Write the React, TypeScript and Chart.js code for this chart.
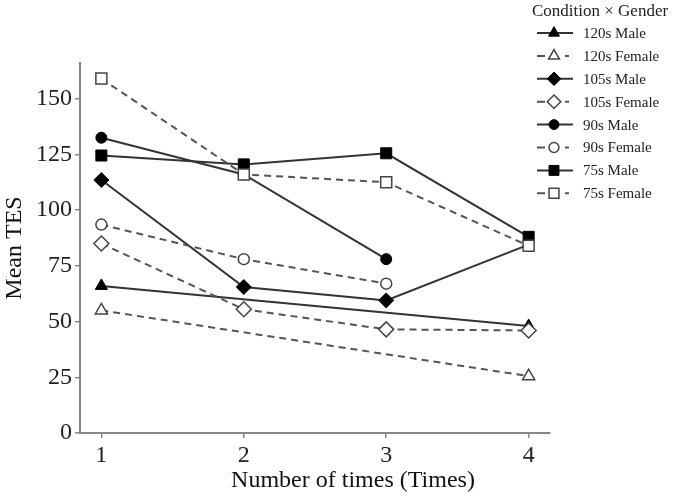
import React, { useEffect, useRef } from 'react';
import { Chart, registerables } from 'chart.js';

Chart.register(...registerables);

// ---- data ----
const timePoints = [1, 2, 3, 4];
const yTickValues = [0, 25, 50, 75, 100, 125, 150];
const legendTitle = 'Condition × Gender';
const xTitle = 'Number of times (Times)';
const yTitle = 'Mean TES';
const seriesNames = [
  '120s Male', '120s Female', '105s Male', '105s Female',
  '90s Male', '90s Female', '75s Male', '75s Female',
];
const male120 = [66, null, null, 48];
const female120 = [55, null, null, 25.5];
const male105 = [113.5, 65.5, 59.5, 84.5];
const female105 = [85, 55.5, 46.5, 46];
const male90 = [132.5, 116, 78, null];
const female90 = [93.5, 78, 67, null];
const male75 = [124.5, 120.5, 125.5, 88];
const female75 = [159, 116, 112.5, 84];

const seriesValues = [male120, female120, male105, female105, male90, female90, male75, female75];
const markerStyles = ['triangle', 'triangle', 'rectRot', 'rectRot', 'circle', 'circle', 'rect', 'rect'];
const markerRadius: Record<string, number> = { triangle: 7, rectRot: 7.5, circle: 5.5, rect: 7.8 };

const FONT = '"Liberation Serif", "DejaVu Serif", serif';

function drawMarker(ctx: CanvasRenderingContext2D, style: string, x: number, y: number, r: number) {
  ctx.beginPath();
  if (style === 'circle') {
    ctx.arc(x, y, r, 0, Math.PI * 2);
  } else if (style === 'rect') {
    const s = r / Math.SQRT2;
    ctx.rect(x - s, y - s, 2 * s, 2 * s);
  } else if (style === 'rectRot') {
    ctx.moveTo(x, y - r);
    ctx.lineTo(x + r, y);
    ctx.lineTo(x, y + r);
    ctx.lineTo(x - r, y);
    ctx.closePath();
  } else {
    const h = r * 1.5;
    const w = r * Math.sqrt(3) / 2;
    ctx.moveTo(x, y - r);
    ctx.lineTo(x + w, y - r + h);
    ctx.lineTo(x - w, y - r + h);
    ctx.closePath();
  }
  ctx.fill();
  ctx.stroke();
}

const legendPlugin = {
  id: 'customLegend',
  afterDraw(chart: any) {
    const ctx: CanvasRenderingContext2D = chart.ctx;
    ctx.save();
    ctx.fillStyle = '#111';
    ctx.textAlign = 'center';
    ctx.textBaseline = 'middle';
    ctx.font = `24px ${FONT}`;
    ctx.fillText(xTitle, 353, 481);

    ctx.fillStyle = '#222';
    ctx.textAlign = 'left';
    ctx.font = `17px ${FONT}`;
    ctx.fillText(legendTitle, 532, 12);
    chart.data.datasets.forEach((ds: any, i: number) => {
      const y = 33 + i * 22.9;
      const dashed = i % 2 === 1;
      ctx.setLineDash([]);
      ctx.strokeStyle = ds.borderColor;
      ctx.lineWidth = 2;
      ctx.beginPath();
      if (dashed) {
        ctx.moveTo(537, y); ctx.lineTo(545, y);
        ctx.moveTo(565, y); ctx.lineTo(569, y);
      } else {
        ctx.moveTo(537, y); ctx.lineTo(573, y);
      }
      ctx.stroke();
      ctx.fillStyle = ds.pointBackgroundColor;
      ctx.strokeStyle = ds.pointBorderColor;
      ctx.lineWidth = ds.pointBorderWidth;
      const st = markerStyles[i];
      drawMarker(ctx, st, 554, y, markerRadius[st] * 0.9);
      ctx.fillStyle = '#222';
      ctx.font = `15px ${FONT}`;
      ctx.fillText(ds.label, 583, y + 1);
    });
    ctx.restore();
  },
};

export default function App() {
  const ref = useRef<HTMLCanvasElement | null>(null);

  useEffect(() => {
    if (!ref.current) return;
    const datasets = seriesNames.map((name, i) => {
      const female = i % 2 === 1;
      const st = markerStyles[i];
      const vals = seriesValues[i];
      const radius = vals.map((v, k) => (name === '105s Male' && k === 3 ? 0 : markerRadius[st]));
      return {
        label: name,
        data: vals.map((v, k) => ({ x: timePoints[k], y: v })),
        spanGaps: true,
        borderColor: female ? '#555' : '#333',
        borderWidth: 2,
        borderDash: female ? [7, 5] : [],
        pointStyle: st,
        pointRadius: radius,
        pointHoverRadius: radius,
        pointBackgroundColor: female ? '#fff' : '#000',
        pointBorderColor: female ? '#444' : '#000',
        pointBorderWidth: female ? 1.5 : 1,
        order: seriesNames.length - i,
        tension: 0,
      };
    });

    const chart = new Chart(ref.current, {
      type: 'line',
      data: { datasets },
      plugins: [legendPlugin],
      options: {
        animation: false,
        responsive: true,
        maintainAspectRatio: false,
        layout: { padding: { top: 63, right: 128, left: 0, bottom: 0 } },
        plugins: { legend: { display: false }, tooltip: { enabled: false } },
        scales: {
          x: {
            type: 'linear',
            min: 0.85,
            max: 4.15,
            afterBuildTicks: (s: any) => { s.ticks = timePoints.map((v) => ({ value: v })); },
            afterFit: (s: any) => { s.height = 67; },
            ticks: { color: '#222', font: { family: FONT, size: 24 }, padding: 3 },
            grid: { drawOnChartArea: false, drawTicks: true, tickLength: 5, color: '#888', lineWidth: 1.5 },
            border: { display: true, color: '#888', width: 2 },
            title: { display: false },
          },
          y: {
            min: 0,
            max: 166,
            afterBuildTicks: (s: any) => { s.ticks = yTickValues.map((v) => ({ value: v })); },
            afterFit: (s: any) => { s.width = 80; },
            ticks: { color: '#222', font: { family: FONT, size: 24 }, padding: 3 },
            grid: { drawOnChartArea: false, drawTicks: true, tickLength: 5, color: '#888', lineWidth: 1.5 },
            border: { display: true, color: '#888', width: 2 },
            title: { display: true, text: yTitle, color: '#111', font: { family: FONT, size: 24 }, padding: { top: 0, bottom: 0 } },
          },
        },
      } as any,
    });
    return () => chart.destroy();
  }, []);

  return (
    <div style={{ position: 'fixed', left: 0, top: 0, width: 678, height: 500, background: '#fff' }}>
      <canvas ref={ref} />
    </div>
  );
}
